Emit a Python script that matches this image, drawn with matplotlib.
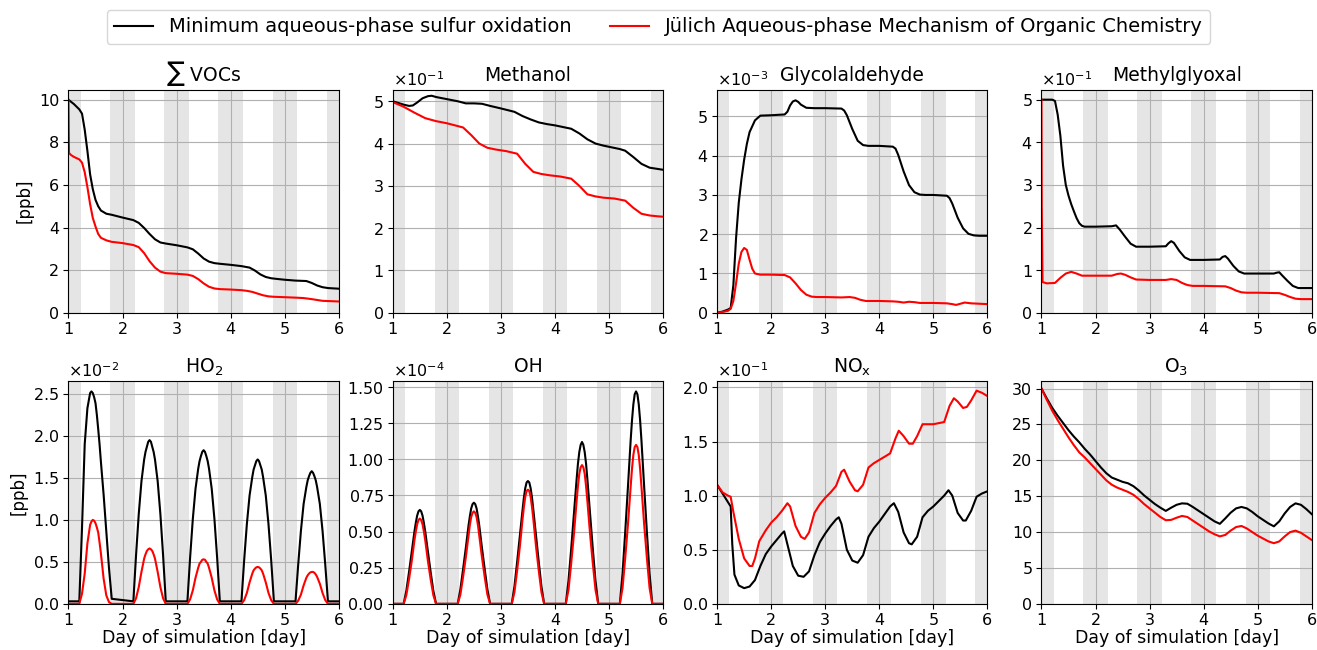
import matplotlib
matplotlib.use('Agg')
import matplotlib.pyplot as plt
import matplotlib.ticker as mticker
import numpy as np

# sampling times for the radical series (HO2, OH), denser near noon
t_rad = [1.0,
         1.2, 1.25, 1.3, 1.35, 1.4, 1.425, 1.45, 1.475, 1.5, 1.525, 1.55, 1.575, 1.6, 1.65, 1.7, 1.75, 1.8,
         2.2, 2.25, 2.3, 2.35, 2.4, 2.425, 2.45, 2.475, 2.5, 2.525, 2.55, 2.575, 2.6, 2.65, 2.7, 2.75, 2.8,
         3.2, 3.25, 3.3, 3.35, 3.4, 3.425, 3.45, 3.475, 3.5, 3.525, 3.55, 3.575, 3.6, 3.65, 3.7, 3.75, 3.8,
         4.2, 4.25, 4.3, 4.35, 4.4, 4.425, 4.45, 4.475, 4.5, 4.525, 4.55, 4.575, 4.6, 4.65, 4.7, 4.75, 4.8,
         5.2, 5.25, 5.3, 5.35, 5.4, 5.425, 5.45, 5.475, 5.5, 5.525, 5.55, 5.575, 5.6, 5.65, 5.7, 5.75, 5.8,
         6.0]

# sum of VOCs [ppb]
t_voc_m = [1.0, 1.1, 1.2, 1.25, 1.3, 1.35, 1.4, 1.45, 1.5, 1.55,
           1.6, 1.7, 1.8, 2.0, 2.2, 2.3, 2.4, 2.5, 2.6, 2.7,
           2.8, 3.0, 3.2, 3.3, 3.4, 3.5, 3.6, 3.7, 3.8, 4.0,
           4.2, 4.35, 4.45, 4.55, 4.65, 4.75, 4.85, 5.0, 5.2, 5.4,
           5.5, 5.6, 5.7, 5.8, 6.0]
voc_m = [10.0, 9.8, 9.55, 9.35, 8.6, 7.6, 6.5, 5.8, 5.3, 5.0,
         4.8, 4.65, 4.6, 4.47, 4.35, 4.22, 3.98, 3.7, 3.45, 3.3,
         3.25, 3.17, 3.07, 2.98, 2.78, 2.55, 2.4, 2.33, 2.3, 2.25,
         2.19, 2.12, 1.98, 1.8, 1.68, 1.62, 1.59, 1.55, 1.51, 1.49,
         1.4, 1.28, 1.2, 1.16, 1.13]
t_voc_j = [1.0, 1.005, 1.01, 1.05, 1.1, 1.2, 1.25, 1.3, 1.35, 1.4,
           1.45, 1.5, 1.55, 1.6, 1.7, 1.8, 2.0, 2.2, 2.3, 2.4,
           2.5, 2.6, 2.7, 2.8, 3.0, 3.2, 3.3, 3.4, 3.5, 3.6,
           3.7, 3.8, 4.0, 4.2, 4.3, 4.4, 4.5, 4.6, 4.7, 4.8,
           5.0, 5.2, 5.35, 5.5, 5.6, 5.7, 5.8, 6.0]
voc_j = [10.0, 8.6, 7.5, 7.4, 7.32, 7.2, 7.05, 6.6, 5.9, 5.1,
         4.45, 4.05, 3.7, 3.52, 3.4, 3.33, 3.27, 3.18, 3.08, 2.8,
         2.42, 2.12, 1.93, 1.86, 1.83, 1.79, 1.73, 1.58, 1.38, 1.22,
         1.14, 1.11, 1.09, 1.06, 1.03, 0.98, 0.9, 0.82, 0.77, 0.75,
         0.73, 0.71, 0.69, 0.64, 0.6, 0.56, 0.55, 0.53]

# methanol [x1e-1 ppb]
t_meoh_m = [1.0, 1.1, 1.2, 1.3, 1.37, 1.45, 1.55, 1.65, 1.72, 1.8,
            2.0, 2.2, 2.35, 2.5, 2.65, 2.8, 3.0, 3.25, 3.4, 3.55,
            3.7, 3.85, 4.0, 4.15, 4.3, 4.45, 4.6, 4.75, 4.9, 5.05,
            5.2, 5.3, 5.45, 5.6, 5.75, 5.9, 6.0]
meoh_m = [5.0, 4.96, 4.92, 4.89, 4.9, 4.97, 5.07, 5.12, 5.13, 5.1,
          5.05, 5.0, 4.95, 4.95, 4.94, 4.89, 4.83, 4.75, 4.65, 4.57,
          4.5, 4.46, 4.43, 4.39, 4.35, 4.24, 4.1, 4.0, 3.95, 3.91,
          3.87, 3.83, 3.68, 3.52, 3.43, 3.4, 3.38]
t_meoh_j = [1.0, 1.2, 1.4, 1.6, 1.8, 2.0, 2.15, 2.3, 2.45, 2.6,
            2.75, 2.9, 3.1, 3.3, 3.45, 3.6, 3.75, 3.9, 4.1, 4.3,
            4.45, 4.6, 4.75, 4.9, 5.1, 5.3, 5.45, 5.6, 5.75, 5.9, 6.0]
meoh_j = [4.98, 4.87, 4.73, 4.6, 4.53, 4.48, 4.43, 4.38, 4.2, 4.0,
          3.9, 3.86, 3.82, 3.76, 3.52, 3.33, 3.28, 3.25, 3.22, 3.17,
          3.0, 2.8, 2.75, 2.72, 2.7, 2.65, 2.48, 2.34, 2.3, 2.28, 2.27]

# glycolaldehyde [x1e-3 ppb]
t_glyc_m = [1.0, 1.1, 1.2, 1.25, 1.3, 1.35, 1.4, 1.45, 1.5, 1.55,
            1.6, 1.7, 1.8, 2.0, 2.25, 2.3, 2.35, 2.4, 2.45, 2.5,
            2.55, 2.65, 2.8, 3.0, 3.3, 3.35, 3.4, 3.5, 3.6, 3.7,
            3.8, 4.0, 4.25, 4.3, 4.35, 4.45, 4.55, 4.65, 4.75, 4.85,
            5.0, 5.25, 5.3, 5.35, 5.45, 5.55, 5.65, 5.75, 5.85, 6.0]
glyc_m = [0.0, 0.03, 0.08, 0.12, 0.7, 1.9, 2.8, 3.4, 3.9, 4.3,
          4.6, 4.9, 5.02, 5.03, 5.05, 5.12, 5.28, 5.38, 5.41, 5.37,
          5.3, 5.22, 5.21, 5.21, 5.2, 5.15, 5.03, 4.68, 4.38, 4.27,
          4.25, 4.25, 4.23, 4.18, 4.02, 3.6, 3.25, 3.07, 3.01, 3.0,
          3.0, 2.98, 2.92, 2.78, 2.42, 2.15, 2.01, 1.97, 1.96, 1.96]
t_glyc_j = [1.0, 1.1, 1.2, 1.25, 1.3, 1.35, 1.4, 1.45, 1.5, 1.55,
            1.6, 1.65, 1.7, 1.8, 2.0, 2.25, 2.35, 2.45, 2.55, 2.65,
            2.75, 2.85, 3.0, 3.3, 3.45, 3.55, 3.65, 3.75, 4.0, 4.25,
            4.35, 4.45, 4.55, 4.65, 4.75, 5.0, 5.25, 5.35, 5.42, 5.5,
            5.58, 5.7, 5.85, 6.0]
glyc_j = [0.0, 0.02, 0.05, 0.1, 0.3, 0.75, 1.25, 1.55, 1.65, 1.6,
          1.35, 1.12, 1.0, 0.97, 0.97, 0.96, 0.9, 0.75, 0.58, 0.46,
          0.41, 0.4, 0.4, 0.39, 0.4, 0.38, 0.33, 0.3, 0.3, 0.29,
          0.28, 0.26, 0.28, 0.27, 0.25, 0.25, 0.24, 0.22, 0.2, 0.23,
          0.26, 0.24, 0.23, 0.22]

# methylglyoxal [x1e-1 ppb]
t_mgly_m = [1.0, 1.2, 1.25, 1.3, 1.35, 1.4, 1.45, 1.5, 1.55, 1.6,
            1.65, 1.7, 1.75, 1.8, 2.0, 2.3, 2.38, 2.45, 2.55, 2.65,
            2.75, 3.0, 3.3, 3.35, 3.4, 3.45, 3.55, 3.65, 3.75, 4.0,
            4.3, 4.35, 4.4, 4.45, 4.55, 4.65, 4.75, 5.0, 5.3, 5.35,
            5.4, 5.45, 5.55, 5.65, 5.75, 6.0]
mgly_m = [5.0, 5.0, 4.97, 4.65, 4.15, 3.45, 3.0, 2.75, 2.55, 2.38,
          2.22, 2.1, 2.04, 2.02, 2.02, 2.03, 2.05, 1.95, 1.78, 1.62,
          1.55, 1.55, 1.56, 1.63, 1.68, 1.64, 1.45, 1.3, 1.24, 1.24,
          1.25, 1.31, 1.33, 1.27, 1.1, 0.97, 0.92, 0.92, 0.92, 0.94,
          0.95, 0.88, 0.75, 0.63, 0.58, 0.58]
t_mgly_j = [1.0, 1.005, 1.02, 1.1, 1.25, 1.35, 1.45, 1.55, 1.65, 1.75,
            2.0, 2.3, 2.4, 2.47, 2.55, 2.65, 2.75, 3.0, 3.3, 3.4,
            3.5, 3.6, 3.7, 3.8, 4.0, 4.4, 4.5, 4.6, 4.7, 4.8,
            5.0, 5.4, 5.5, 5.6, 5.7, 5.8, 6.0]
mgly_j = [5.0, 2.5, 0.72, 0.69, 0.7, 0.82, 0.92, 0.96, 0.92, 0.87,
          0.87, 0.87, 0.91, 0.92, 0.89, 0.83, 0.78, 0.77, 0.77, 0.79,
          0.77, 0.7, 0.65, 0.63, 0.63, 0.62, 0.58, 0.52, 0.48, 0.47,
          0.47, 0.46, 0.42, 0.37, 0.33, 0.32, 0.32]

# HO2 [x1e-2 ppb], on t_rad
ho2_m = [0.03,
         0.03, 0.9, 1.9, 2.33, 2.51, 2.53, 2.51, 2.46, 2.39, 2.25, 2.08, 1.9, 1.69, 1.3, 0.86, 0.42, 0.06,
         0.03, 0.58, 1.07, 1.46, 1.72, 1.81, 1.87, 1.93, 1.95, 1.93, 1.87, 1.81, 1.72, 1.46, 1.07, 0.58, 0.03,
         0.03, 0.55, 1.01, 1.37, 1.61, 1.70, 1.76, 1.81, 1.83, 1.81, 1.76, 1.70, 1.61, 1.37, 1.01, 0.55, 0.03,
         0.03, 0.52, 0.95, 1.29, 1.51, 1.60, 1.65, 1.70, 1.72, 1.70, 1.65, 1.60, 1.51, 1.29, 0.95, 0.52, 0.03,
         0.03, 0.47, 0.87, 1.19, 1.39, 1.47, 1.52, 1.56, 1.58, 1.56, 1.52, 1.47, 1.39, 1.19, 0.87, 0.47, 0.03,
         0.03]
ho2_j = [0.0,
         0.0, 0.12, 0.36, 0.72, 0.94, 0.98, 1.0, 0.99, 0.96, 0.91, 0.85, 0.73, 0.6, 0.3, 0.1, 0.02, 0.0,
         0.0, 0.066, 0.2, 0.38, 0.54, 0.59, 0.63, 0.65, 0.66, 0.65, 0.63, 0.59, 0.54, 0.38, 0.2, 0.066, 0.0,
         0.0, 0.053, 0.16, 0.31, 0.43, 0.48, 0.50, 0.525, 0.53, 0.525, 0.50, 0.48, 0.43, 0.31, 0.16, 0.053, 0.0,
         0.0, 0.044, 0.13, 0.255, 0.36, 0.40, 0.42, 0.435, 0.44, 0.435, 0.42, 0.40, 0.36, 0.255, 0.13, 0.044, 0.0,
         0.0, 0.038, 0.11, 0.22, 0.31, 0.34, 0.36, 0.375, 0.38, 0.38, 0.37, 0.35, 0.32, 0.24, 0.13, 0.045, 0.0,
         0.0]

# OH [x1e-4 ppb], on t_rad
oh_m = [0.0,
        0.0, 0.09, 0.22, 0.36, 0.50, 0.56, 0.61, 0.64, 0.65, 0.64, 0.61, 0.56, 0.50, 0.36, 0.22, 0.09, 0.0,
        0.0, 0.10, 0.24, 0.385, 0.54, 0.605, 0.66, 0.69, 0.70, 0.69, 0.66, 0.605, 0.54, 0.385, 0.24, 0.10, 0.0,
        0.0, 0.12, 0.29, 0.47, 0.65, 0.735, 0.80, 0.84, 0.85, 0.84, 0.80, 0.735, 0.65, 0.47, 0.29, 0.12, 0.0,
        0.0, 0.16, 0.38, 0.62, 0.86, 0.97, 1.05, 1.10, 1.12, 1.10, 1.05, 0.97, 0.86, 0.62, 0.38, 0.16, 0.0,
        0.0, 0.21, 0.50, 0.81, 1.13, 1.27, 1.38, 1.45, 1.47, 1.45, 1.38, 1.27, 1.13, 0.81, 0.50, 0.21, 0.0,
        0.0]
oh_j = [0.0,
        0.0, 0.06, 0.17, 0.295, 0.44, 0.50, 0.55, 0.58, 0.59, 0.58, 0.55, 0.50, 0.44, 0.295, 0.17, 0.06, 0.0,
        0.0, 0.064, 0.186, 0.32, 0.47, 0.545, 0.60, 0.63, 0.64, 0.63, 0.60, 0.545, 0.47, 0.32, 0.186, 0.064, 0.0,
        0.0, 0.08, 0.23, 0.395, 0.585, 0.67, 0.74, 0.78, 0.79, 0.78, 0.74, 0.67, 0.585, 0.395, 0.23, 0.08, 0.0,
        0.0, 0.096, 0.28, 0.48, 0.71, 0.815, 0.90, 0.945, 0.96, 0.945, 0.90, 0.815, 0.71, 0.48, 0.28, 0.096, 0.0,
        0.0, 0.11, 0.32, 0.55, 0.81, 0.935, 1.03, 1.085, 1.10, 1.085, 1.03, 0.935, 0.81, 0.55, 0.32, 0.11, 0.0,
        0.0]

# NOx [x1e-1 ppb]
t_nox_m = [1.0, 1.1, 1.2, 1.25, 1.28, 1.32, 1.4, 1.5, 1.6, 1.7,
           1.8, 1.9, 2.0, 2.1, 2.2, 2.24, 2.3, 2.4, 2.5, 2.6,
           2.7, 2.8, 2.9, 3.0, 3.1, 3.2, 3.25, 3.3, 3.4, 3.5,
           3.6, 3.7, 3.8, 3.9, 4.0, 4.1, 4.2, 4.27, 4.35, 4.45,
           4.55, 4.6, 4.7, 4.8, 4.9, 5.0, 5.1, 5.2, 5.28, 5.35,
           5.45, 5.55, 5.6, 5.7, 5.8, 5.9, 6.0]
nox_m = [1.1, 1.02, 0.94, 0.9, 0.55, 0.27, 0.17, 0.145, 0.16, 0.22,
         0.35, 0.46, 0.53, 0.59, 0.65, 0.67, 0.55, 0.35, 0.26, 0.25,
         0.3, 0.45, 0.57, 0.65, 0.72, 0.78, 0.8, 0.74, 0.5, 0.4,
         0.38, 0.45, 0.62, 0.7, 0.76, 0.83, 0.9, 0.93, 0.85, 0.66,
         0.56, 0.55, 0.62, 0.8, 0.86, 0.9, 0.95, 1.0, 1.05, 1.0,
         0.84, 0.77, 0.77, 0.86, 0.99, 1.02, 1.04]
t_nox_j = [1.0, 1.1, 1.2, 1.25, 1.3, 1.4, 1.5, 1.6, 1.65, 1.7,
           1.78, 1.9, 2.0, 2.1, 2.2, 2.3, 2.35, 2.45, 2.55, 2.62,
           2.7, 2.8, 2.9, 3.0, 3.1, 3.2, 3.3, 3.35, 3.45, 3.55,
           3.6, 3.7, 3.8, 3.9, 4.0, 4.1, 4.2, 4.3, 4.36, 4.45,
           4.55, 4.62, 4.7, 4.8, 5.0, 5.2, 5.3, 5.38, 5.45, 5.55,
           5.62, 5.7, 5.8, 5.9, 6.0]
nox_j = [1.1, 1.03, 1.0, 0.99, 0.85, 0.6, 0.42, 0.35, 0.35, 0.42,
         0.58, 0.68, 0.75, 0.8, 0.86, 0.93, 0.9, 0.72, 0.62, 0.6,
         0.66, 0.84, 0.92, 0.98, 1.03, 1.09, 1.22, 1.24, 1.13, 1.05,
         1.04, 1.1, 1.26, 1.3, 1.33, 1.36, 1.39, 1.53, 1.6, 1.55,
         1.48, 1.48, 1.55, 1.66, 1.66, 1.68, 1.83, 1.9, 1.87, 1.81,
         1.82, 1.88, 1.97, 1.95, 1.92]

# O3 [ppb], every 0.1 day
t_o3 = np.round(np.linspace(1, 6, 51), 2)
o3_m = [30.0, 28.6, 27.3, 26.2, 25.2, 24.2, 23.3, 22.5, 21.6, 20.8,
        19.9, 19.0, 18.2, 17.6, 17.3, 17.0, 16.8, 16.4, 15.8, 15.1,
        14.5, 13.9, 13.4, 12.95, 13.4, 13.8, 14.0, 13.95, 13.5, 13.0,
        12.5, 12.0, 11.5, 11.15, 11.9, 12.7, 13.3, 13.5, 13.3, 12.8,
        12.2, 11.7, 11.2, 10.8, 11.5, 12.6, 13.5, 14.0, 13.8, 13.2,
        12.5]
o3_j = [30.0, 28.4, 26.9, 25.6, 24.4, 23.2, 22.1, 21.1, 20.4, 19.6,
        18.8, 18.0, 17.2, 16.6, 16.2, 15.9, 15.6, 15.2, 14.6, 13.9,
        13.3, 12.7, 12.1, 11.65, 11.7, 12.0, 12.25, 12.1, 11.6, 11.1,
        10.6, 10.1, 9.7, 9.4, 9.6, 10.2, 10.7, 10.85, 10.5, 10.0,
        9.5, 9.1, 8.7, 8.45, 8.7, 9.4, 10.0, 10.2, 9.9, 9.4,
        8.9]

# night periods (shaded)
nights = [(1.0, 1.225), (1.775, 2.225), (2.775, 3.225), (3.775, 4.225),
          (4.775, 5.225), (5.775, 6.0)]

# title, black series, red series, scale, sci-notation, y tick step
panels = [
    (r'$\sum$ VOCs', t_voc_m, voc_m, t_voc_j, voc_j, 1, False, 2),
    ('Methanol', t_meoh_m, meoh_m, t_meoh_j, meoh_j, 1e-1, True, 1e-1),
    ('Glycolaldehyde', t_glyc_m, glyc_m, t_glyc_j, glyc_j, 1e-3, True, 1e-3),
    ('Methylglyoxal', t_mgly_m, mgly_m, t_mgly_j, mgly_j, 1e-1, True, 1e-1),
    (r'HO$_2$', t_rad, ho2_m, t_rad, ho2_j, 1e-2, True, 0.5e-2),
    ('OH', t_rad, oh_m, t_rad, oh_j, 1e-4, True, 0.25e-4),
    (r'NO$_\mathrm{x}$', t_nox_m, nox_m, t_nox_j, nox_j, 1e-1, True, 0.5e-1),
    (r'O$_3$', t_o3, o3_m, t_o3, o3_j, 1, False, 5),
]

fig, axes = plt.subplots(2, 4, figsize=(13.17, 6.5), dpi=100)
plt.subplots_adjust(left=0.052, right=0.996, top=0.862, bottom=0.071,
                    wspace=0.2, hspace=0.305)

for i, (title, tm, ym, tj, yj, scale, sci, step) in enumerate(panels):
    ax = axes.flat[i]
    for a, b in nights:
        ax.axvspan(a, b, color='grey', alpha=0.2, lw=0)
    l1, = ax.plot(tm, np.array(ym) * scale, color='k', lw=1.5)
    l2, = ax.plot(tj, np.array(yj) * scale, color='r', lw=1.5)
    ax.set_xlim(1, 6)
    ax.set_ylim(bottom=0)
    ax.set_xticks([1, 2, 3, 4, 5, 6])
    ax.yaxis.set_major_locator(mticker.MultipleLocator(step))
    ax.grid(True)
    ax.set_title(title, fontsize=13.5)
    ax.tick_params(labelsize=11.5, pad=3)
    if sci:
        fmt = mticker.ScalarFormatter(useMathText=True)
        fmt.set_powerlimits((0, 0))
        ax.yaxis.set_major_formatter(fmt)
        ax.yaxis.get_offset_text().set_fontsize(11.5)
    if i % 4 == 0:
        ax.set_ylabel('[ppb]', fontsize=12)
    if i >= 4:
        ax.set_xlabel('Day of simulation [day]', fontsize=12.5, labelpad=1)

fig.legend([l1, l2], ['Minimum aqueous-phase sulfur oxidation',
                      'Jülich Aqueous-phase Mechanism of Organic Chemistry'],
           loc='upper center', ncol=2, fontsize=14, bbox_to_anchor=(0.5, 1.0),
           handlelength=2.0, columnspacing=2.0)

plt.savefig('out.png', dpi=100)
